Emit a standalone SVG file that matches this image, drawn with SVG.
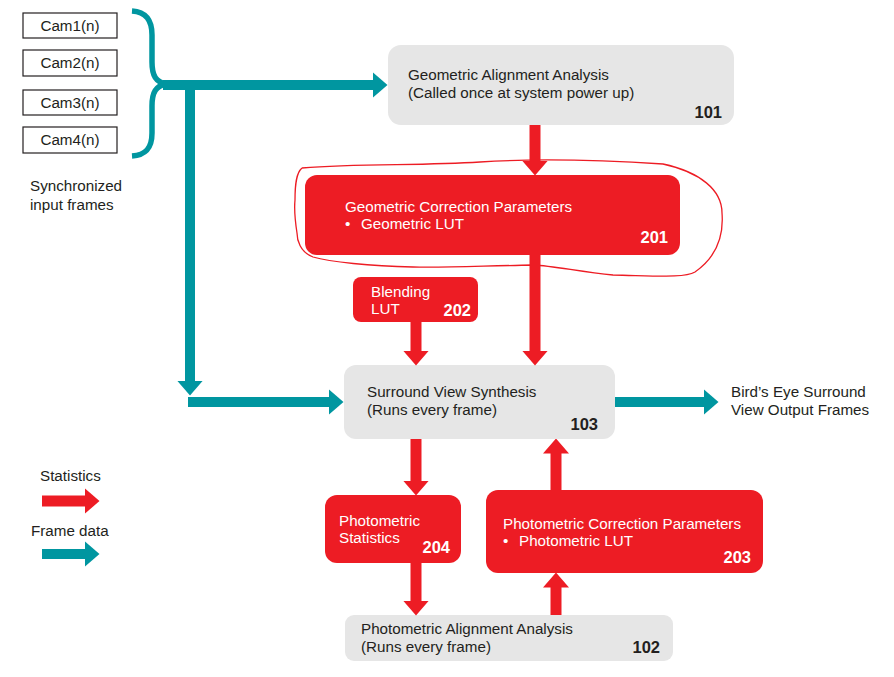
<svg xmlns="http://www.w3.org/2000/svg" width="894" height="677" viewBox="0 0 894 677">
<style>
  .t { font-family: "Liberation Sans", Arial, sans-serif; font-size: 15.2px; fill: #231F20; }
  .w { fill: #FFFFFF; }
  .n { font-family: "Liberation Sans", Arial, sans-serif; font-size: 16.5px; font-weight: bold; text-anchor: end; }
  .grey { fill: #E6E6E6; }
  .red { fill: #ED1C24; }
  .cam { fill: #FFFFFF; stroke: #231F20; stroke-width: 1.2; }
  .rc { fill: none; stroke: #ED1C24; stroke-width: 11; }
  .tc { fill: none; stroke: #0096A0; stroke-width: 10; }
</style>
<defs>
  <marker id="ah-red" markerUnits="userSpaceOnUse" markerWidth="15" markerHeight="26" viewBox="0 0 15 26" refX="0.5" refY="13" orient="auto">
    <path d="M0,0 L15,13 L0,26 z" fill="#ED1C24"/>
  </marker>
  <marker id="ah-teal" markerUnits="userSpaceOnUse" markerWidth="15" markerHeight="26" viewBox="0 0 15 26" refX="0.5" refY="13" orient="auto">
    <path d="M0,0 L15,13 L0,26 z" fill="#0096A0"/>
  </marker>
</defs>
<rect width="894" height="677" fill="#FFFFFF"/>

<g id="cam1"><rect class="cam" x="23" y="13" width="94" height="25"/><text class="t" x="70" y="31" text-anchor="middle">Cam1(n)</text></g>
<g id="cam2"><rect class="cam" x="23" y="50" width="94" height="26"/><text class="t" x="70" y="68" text-anchor="middle">Cam2(n)</text></g>
<g id="cam3"><rect class="cam" x="23" y="90" width="94" height="25"/><text class="t" x="70" y="108" text-anchor="middle">Cam3(n)</text></g>
<g id="cam4"><rect class="cam" x="23" y="127" width="94" height="26"/><text class="t" x="70" y="145" text-anchor="middle">Cam4(n)</text></g>
<g id="brace">
  <path d="M132,11 C146,12 152,20 152,35 L152,62 C152,76 156,82 166,84 C156,86 152,92 152,106 L152,133 C152,148 146,155 132,156" fill="none" stroke="#0096A0" stroke-width="5.5"/>
</g>
<g id="sync-label">
  <text class="t" x="30" y="191">Synchronized</text>
  <text class="t" x="30" y="210">input frames</text>
</g>

<g id="n101">
  <rect class="grey" x="388" y="45" width="346" height="80" rx="13"/>
  <text class="t" x="408" y="80">Geometric Alignment Analysis</text>
  <text class="t" x="408" y="98">(Called once at system power up)</text>
  <text class="n" x="722" y="118" fill="#231F20">101</text>
</g>

<g id="n201">
  <rect class="red" x="305" y="175" width="375" height="80" rx="12"/>
  <text class="t w" x="345" y="212">Geometric Correction Parameters</text>
  <text class="t w" x="345" y="229">•</text>
  <text class="t w" x="361" y="229">Geometric LUT</text>
  <text class="n" x="668" y="243" fill="#FFFFFF">201</text>
</g>
<g id="highlight">
  <path d="M302,168 C360,163 420,166 480,162 C540,158 600,160 663,164 C700,172 722,190 722,213 C724,238 715,258 695,272 C685,278 660,276 613,275 C580,272 555,266 533,265 C480,266 440,268 413,267 C370,266 330,262 313,257 C300,252 297,240 297,233 C295,220 294,210 295,200 C295,185 296,173 302,168" fill="none" stroke="#ED1C24" stroke-width="1.3"/>
</g>

<g id="n202">
  <rect class="red" x="353" y="277" width="125" height="45" rx="8"/>
  <text class="t w" x="371" y="297">Blending</text>
  <text class="t w" x="371" y="314">LUT</text>
  <text class="n" x="471" y="316" fill="#FFFFFF">202</text>
</g>

<g id="n103">
  <rect class="grey" x="344" y="365" width="271" height="74" rx="12"/>
  <text class="t" x="367" y="397">Surround View Synthesis</text>
  <text class="t" x="367" y="415">(Runs every frame)</text>
  <text class="n" x="598" y="430" fill="#231F20">103</text>
</g>

<g id="output-label">
  <text class="t" x="731" y="397">Bird’s Eye Surround</text>
  <text class="t" x="731" y="415">View Output Frames</text>
</g>

<g id="n204">
  <rect class="red" x="325" y="495" width="136" height="68" rx="12"/>
  <text class="t w" x="339" y="526">Photometric</text>
  <text class="t w" x="339" y="543">Statistics</text>
  <text class="n" x="450" y="553" fill="#FFFFFF">204</text>
</g>

<g id="n203">
  <rect class="red" x="486" y="490" width="277" height="83" rx="12"/>
  <text class="t w" x="503" y="529">Photometric Correction Parameters</text>
  <text class="t w" x="503" y="546">•</text>
  <text class="t w" x="519" y="546">Photometric LUT</text>
  <text class="n" x="751" y="563" fill="#FFFFFF">203</text>
</g>

<g id="n102">
  <rect class="grey" x="345" y="615" width="328" height="46" rx="9"/>
  <text class="t" x="361" y="634">Photometric Alignment Analysis</text>
  <text class="t" x="361" y="652">(Runs every frame)</text>
  <text class="n" x="660" y="653" fill="#231F20">102</text>
</g>

<g id="legend">
  <text class="t" x="40" y="481">Statistics</text>
  <path class="rc" d="M42,501 H85" marker-end="url(#ah-red)"/>
  <text class="t" x="31" y="536">Frame data</text>
  <path class="tc" d="M42,554 H85" marker-end="url(#ah-teal)"/>
</g>

<g id="connectors">
  <path class="tc" d="M163,85 H373" marker-end="url(#ah-teal)"/>
  <path class="tc" d="M190,85 V381" marker-end="url(#ah-teal)"/>
  <path class="tc" d="M188,402 H329" marker-end="url(#ah-teal)"/>
  <path class="tc" d="M615,402 H704" marker-end="url(#ah-teal)"/>
  <path class="rc" d="M535,125 V161" marker-end="url(#ah-red)"/>
  <path class="rc" d="M535,255 V351" marker-end="url(#ah-red)"/>
  <path class="rc" d="M416,322 V351" marker-end="url(#ah-red)"/>
  <path class="rc" d="M416,439 V481" marker-end="url(#ah-red)"/>
  <path class="rc" d="M416,563 V601" marker-end="url(#ah-red)"/>
  <path class="rc" d="M556,615 V587" marker-end="url(#ah-red)"/>
  <path class="rc" d="M556,490 V453" marker-end="url(#ah-red)"/>
</g>
</svg>
